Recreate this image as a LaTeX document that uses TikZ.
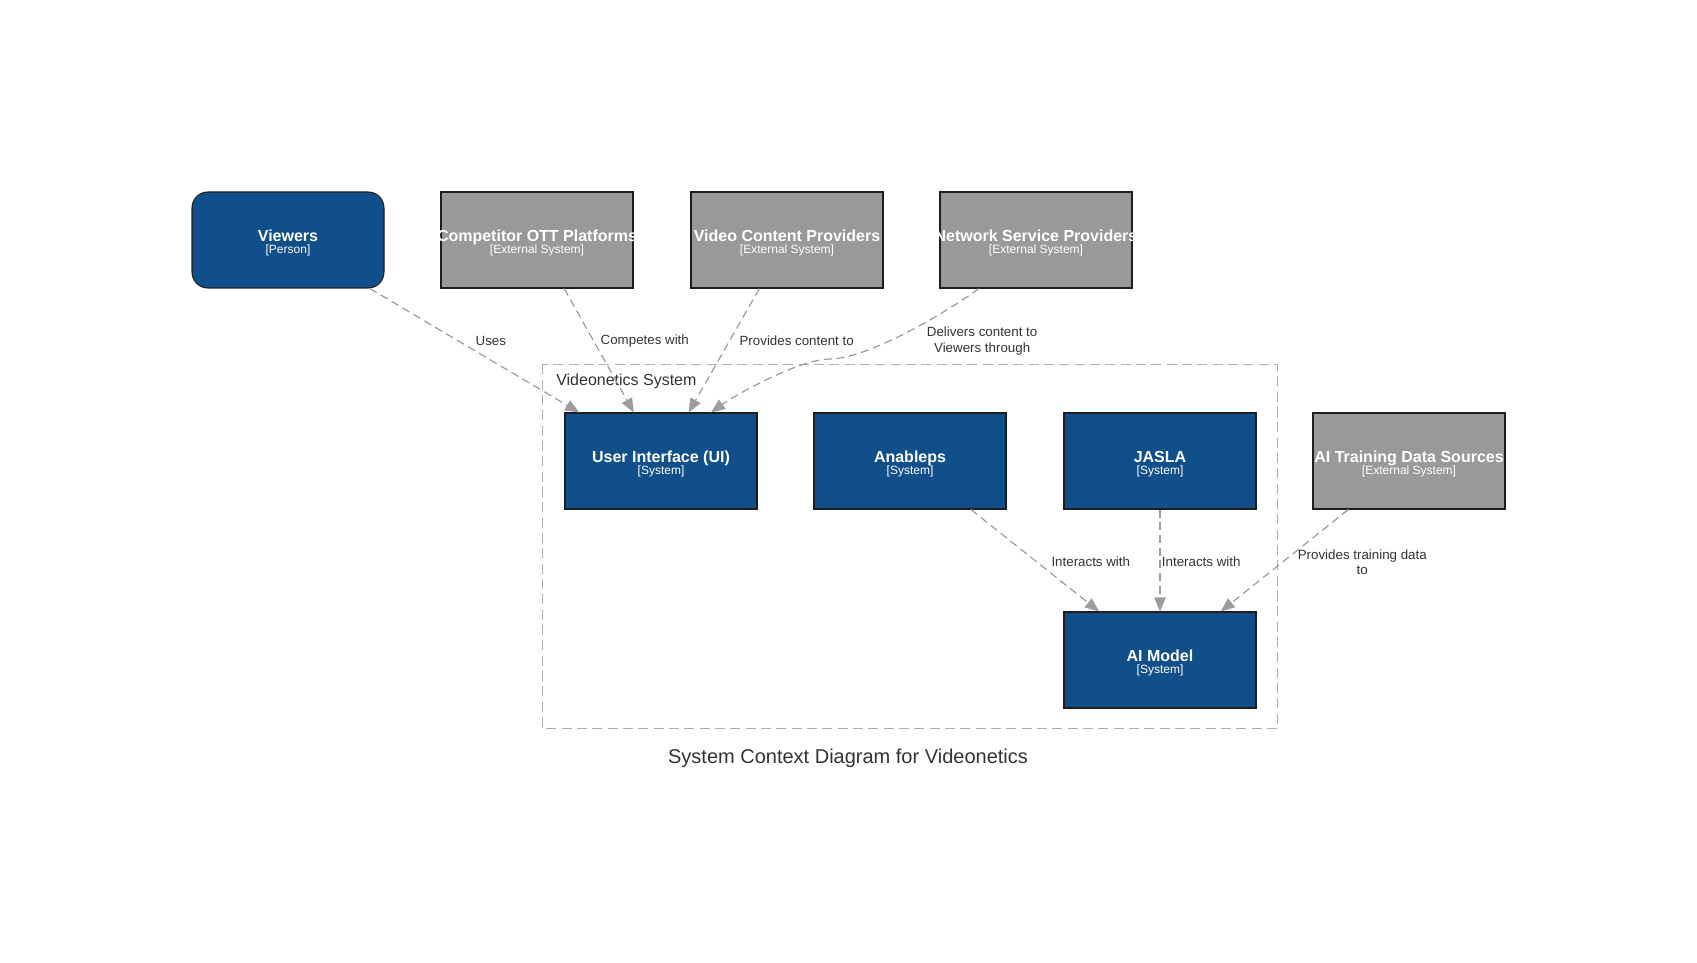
\documentclass[tikz,border=0pt]{standalone}
\usepackage{fontspec}
\setmainfont{Liberation Sans}
\usetikzlibrary{arrows.meta}

\definecolor{sysblue}{HTML}{114F8A}
\definecolor{extgray}{HTML}{999999}
\definecolor{boxline}{HTML}{1E1E1E}
\definecolor{relgray}{HTML}{9C9C9C}
\definecolor{bndgray}{HTML}{ADADAD}
\definecolor{txtgray}{HTML}{333333}

\newcommand{\boxtext}[2]{\rule{0pt}{12.5pt}\makebox[0pt]{\fontsize{12}{13}\selectfont\bfseries #1}\\[-3pt]\makebox[0pt]{\fontsize{9}{10}\selectfont [#2]}}

\tikzset{
  sysbox/.style={draw=boxline, line width=0.8pt, fill=sysblue, text=white, align=center,
    minimum width=144pt, minimum height=72pt, inner sep=0pt},
  extbox/.style={sysbox, fill=extgray},
  personbox/.style={sysbox, rounded corners=12pt},
  rel/.style={relgray, line width=0.9pt, dash pattern=on 6pt off 3.5pt,
    -{Triangle[length=10.5pt,width=8.5pt]}},
  lbl/.style={text=txtgray, font=\fontsize{10}{11.5}\selectfont, inner sep=0pt, align=center},
  bnd/.style={draw=bndgray, line width=0.9pt, dash pattern=on 7.5pt off 4pt},
}

\begin{document}
\begin{tikzpicture}[x=0.75pt, y=-0.75pt]
\useasboundingbox (0,0) rectangle (1697,963);

% outside the system
\node[personbox] (view) at (288,240) {\boxtext{Viewers}{Person}};
\node[extbox] (comp) at (537,240) {\boxtext{Competitor OTT Platforms}{External System}};
\node[extbox] (vid) at (787,240) {\boxtext{Video Content Providers}{External System}};
\node[extbox] (netw) at (1036,240) {\boxtext{Network Service Providers}{External System}};
\node[extbox] (aitr) at (1409,461) {\boxtext{AI Training Data Sources}{External System}};

% inside the system
\node[sysbox] (ui) at (661,461) {\boxtext{User Interface (UI)}{System}};
\node[sysbox] (anab) at (910,461) {\boxtext{Anableps}{System}};
\node[sysbox] (jasla) at (1160,461) {\boxtext{JASLA}{System}};
\node[sysbox] (aim) at (1160,660) {\boxtext{AI Model}{System}};

\draw[bnd] ([xshift=-16.5pt,yshift=36pt]ui.north west) rectangle ([xshift=15.75pt,yshift=-15pt]aim.south east);
\node[text=txtgray, font=\fontsize{12}{14}\selectfont, anchor=west, inner sep=0pt] (sysname) at (556,381) {Videonetics System};

\draw[rel] (view) -- node[lbl, pos=.42, right=13pt] {Uses} (ui);
\draw[rel] (comp) -- node[lbl, pos=.42, right=5pt] {Competes with} (ui);
\draw[rel] (vid) -- node[lbl, pos=.42, right=7pt] {Provides content to} (ui);
\draw[rel] ([xshift=-42.75pt]netw.south) .. controls +(-40,29) and +(35,0) .. (830,359)
  node[lbl, pos=.45, right=11.5pt, yshift=-8pt] {Delivers content to\\Viewers through}
  .. controls +(-30,0) and +(25,-18) .. ([xshift=37.5pt]ui.north);
\draw[rel] (anab) -- node[lbl, pos=.51, right=11pt] {Interacts with} (aim);
\draw[rel] (jasla) -- node[lbl, pos=.51, right=1pt] {Interacts with} (aim);
\draw[rel] (aitr) -- node[lbl, pos=.5, right=9.5pt, yshift=-1.5pt] {Provides training data\\to} (aim);

\node[text=txtgray, font=\fontsize{15}{18}\selectfont] (title) at (848,758) {System Context Diagram for Videonetics};

\end{tikzpicture}
\end{document}
